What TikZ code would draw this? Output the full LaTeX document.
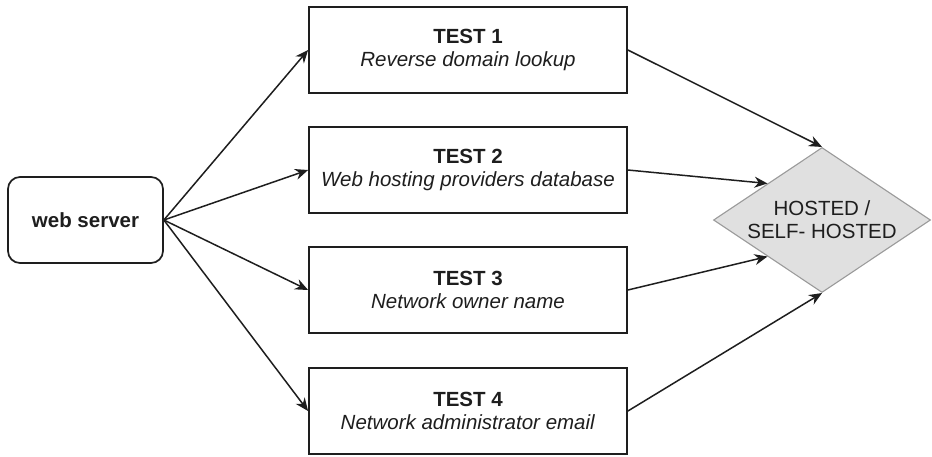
\documentclass[tikz,border=0pt]{standalone}
\usepackage{fontspec}
\setmainfont{Liberation Sans}
\usetikzlibrary{shapes.geometric,arrows.meta,calc}
\definecolor{ink}{HTML}{1E1E1E}
\definecolor{decfill}{HTML}{E0E0E0}
\definecolor{decline}{HTML}{9A9A9A}
\begin{document}
\begin{tikzpicture}[x=1pt,y=-1pt,
  txt/.style={font=\fontsize{20.5}{23}\selectfont, text=ink, align=center},
  server/.style={txt, draw=ink, line width=1.7pt, rounded corners=12pt,
    minimum width=155pt, minimum height=86pt, inner sep=0pt},
  testbox/.style={txt, draw=ink, line width=1.8pt,
    minimum width=318pt, minimum height=86pt, inner sep=0pt},
  decision/.style={txt, shape=diamond, aspect=1.5, fill=decfill, draw=decline,
    line width=1.1pt, minimum width=217pt, minimum height=145pt, inner sep=0pt},
  flow/.style={draw=ink, line width=1.5pt, -{Stealth[length=13pt,width=11pt]}}
]
\useasboundingbox (0,0) rectangle (932,456);

\node[server] (ws) at (85.5,220) {\textbf{web server}};

\node[testbox] (t1) at (468,50)  {\textbf{TEST 1}\\\textit{Reverse domain lookup}};
\node[testbox] (t2) at (468,170) {\textbf{TEST 2}\\\textit{Web hosting providers database}};
\node[testbox] (t3) at (468,290) {\textbf{TEST 3}\\\textit{Network owner name}};
\node[testbox] (t4) at (468,411) {\textbf{TEST 4}\\\textit{Network administrator email}};

\node[decision] (hs) at (822,220) {HOSTED /\\SELF- HOSTED};

% points halfway along the two left edges of the decision
\coordinate (hsul) at ($(hs.north)!0.5!(hs.west)$);
\coordinate (hsll) at ($(hs.south)!0.5!(hs.west)$);

\foreach \t in {t1,t2,t3,t4}
  \draw[flow] (ws.east) -- (\t.west);

\draw[flow] (t1.east) -- (hs.north);
\draw[flow] (t2.east) -- (hsul);
\draw[flow] (t3.east) -- (hsll);
\draw[flow] (t4.east) -- (hs.south);
\end{tikzpicture}
\end{document}
